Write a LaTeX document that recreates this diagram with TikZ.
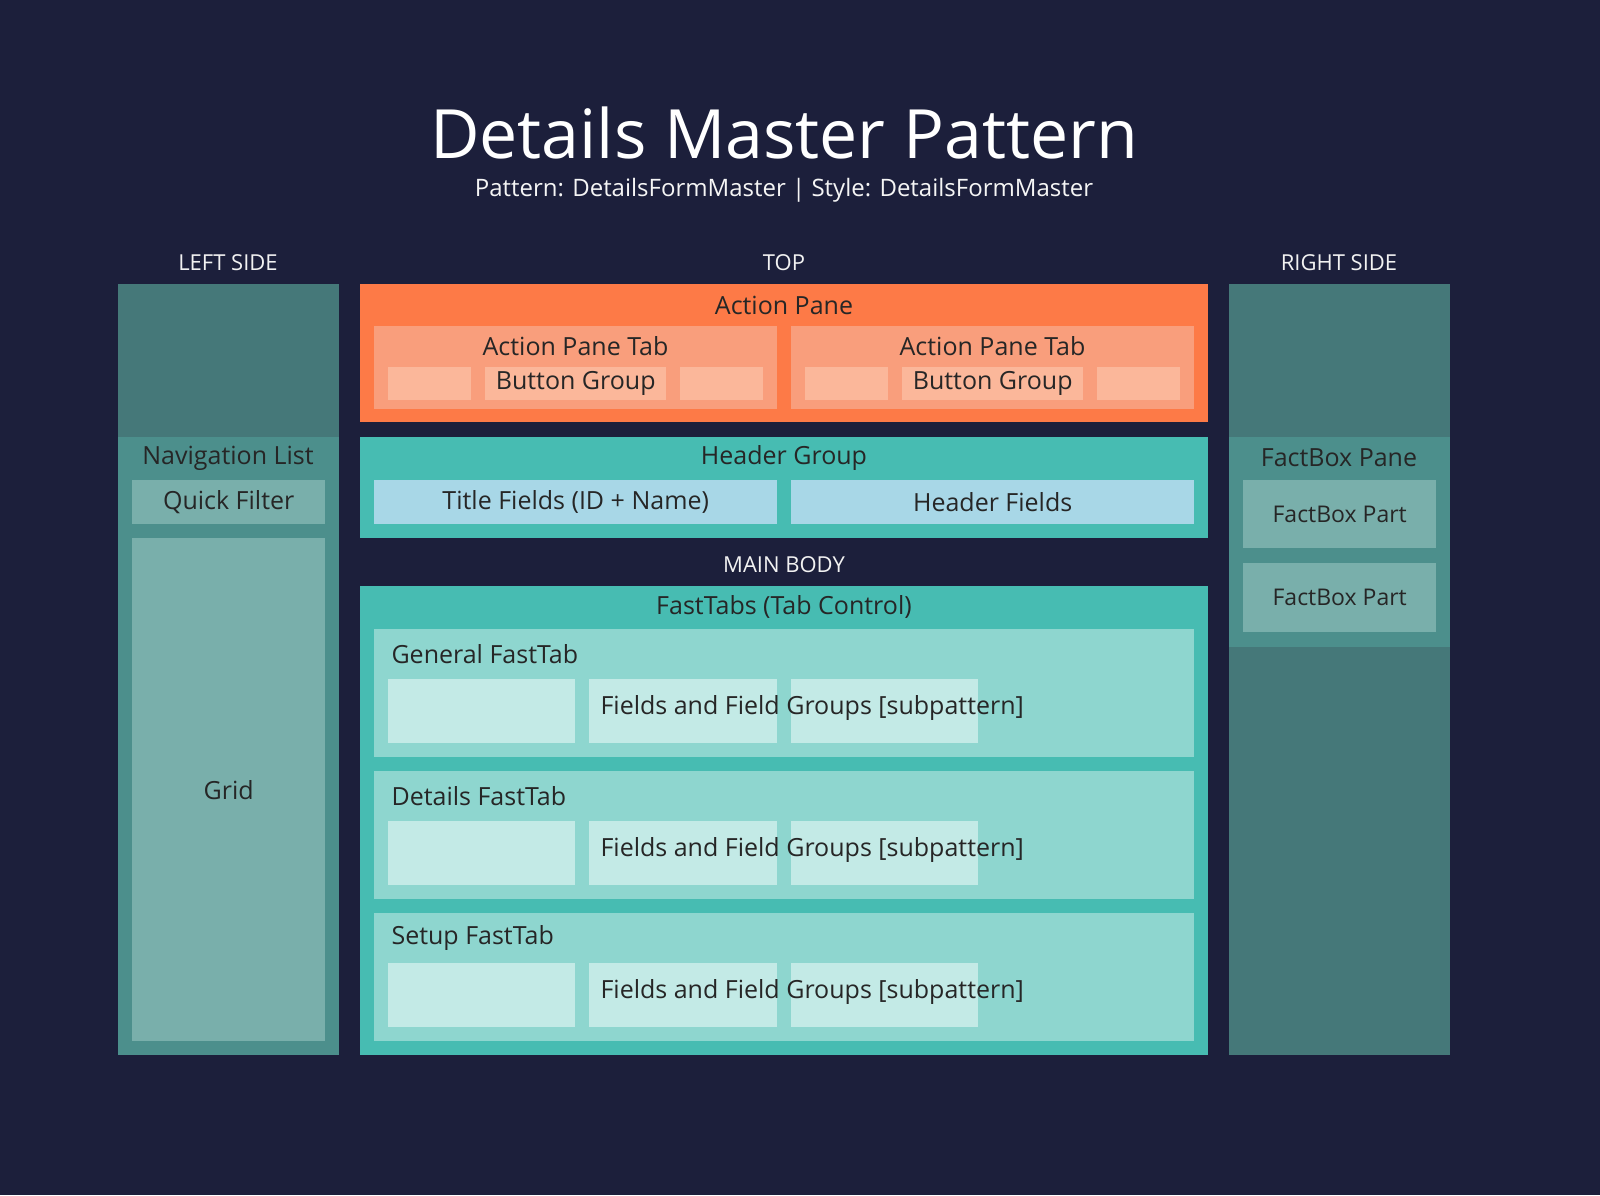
\documentclass[tikz,border=0pt]{standalone}
\usepackage{fontspec}
\setmainfont{Open Sans}
\usetikzlibrary{positioning}
\definecolor{bgnavy}{HTML}{1C1F3B}
\definecolor{sidedark}{HTML}{457879}
\definecolor{sidemid}{HTML}{4C8F8C}
\definecolor{gridfill}{HTML}{79AFAB}
\definecolor{orangepane}{HTML}{FD7A47}
\definecolor{orangetab}{HTML}{F99E7C}
\definecolor{orangebtn}{HTML}{FBB79A}
\definecolor{tealpane}{HTML}{47BCB2}
\definecolor{bluefield}{HTML}{A8D7E7}
\definecolor{tealtab}{HTML}{8ED6CF}
\definecolor{tealbox}{HTML}{C3EAE6}
\tikzset{
	box/.style = {draw=none, anchor=north west, inner sep=0pt},
	lbl/.style = {text=#1, font=\fontsize{25}{30}\selectfont},
	lbl/.default = black!85,
	seclbl/.style = {text=white!90!gray, font=\fontsize{22}{26}\selectfont}
}
\newcommand{\blk}[6]{% name, colour, x, y, w, h
	\node[box, fill=#2, minimum width=#5pt, minimum height=#6pt] (#1) at (#3,#4) {};}
\begin{document}
\begin{tikzpicture}[x=1pt, y=-1pt]
\fill[bgnavy] (0,0) rectangle (1600,1195);
\useasboundingbox (0,0) rectangle (1600,1195);

% title
\node[text=white, font=\fontsize{68}{80}\selectfont] (title) at (784,133) {Details Master Pattern};
\node[text=white!92!gray, font=\fontsize{24}{28}\selectfont] (subtitle) at (784,190) {Pattern: DetailsFormMaster | Style: DetailsFormMaster};

% section labels
\node[seclbl] (leftlbl) at (228,263) {LEFT SIDE};
\node[seclbl] (toplbl) at (784,263) {TOP};
\node[seclbl] (rightlbl) at (1339,263) {RIGHT SIDE};
\node[seclbl] (mainlbl) at (784,565) {MAIN BODY};

% left side
\blk{lefttop}{sidedark}{118}{284}{221}{153}
\blk{navlist}{sidemid}{118}{437}{221}{618}
\node[lbl] (navtxt) at (228,458) {Navigation List};
\blk{qfilter}{gridfill}{132}{480}{193}{44}
\node[lbl] at (qfilter.center) {Quick Filter};
\blk{grid}{gridfill}{132}{538}{193}{503}
\node[lbl] at (grid.center) {Grid};

% action pane
\blk{actpane}{orangepane}{360}{284}{848}{138}
\node[lbl] (acttxt) at (784,305) {Action Pane};
\foreach \x [count=\i] in {374,791}{
	\blk{tab\i}{orangetab}{\x}{326}{403}{83}
	\node[lbl] at (\x+201.5,346) {Action Pane Tab};
	\blk{btnl\i}{orangebtn}{\x+14}{367}{83}{33}
	\blk{btng\i}{orangebtn}{\x+111}{367}{181}{33}
	\node[lbl] at (btng\i.center) {Button Group};
	\blk{btnr\i}{orangebtn}{\x+306}{367}{83}{33}
}

% header group
\blk{hdrgroup}{tealpane}{360}{437}{848}{101}
\node[lbl] (hdrtxt) at (784,458) {Header Group};
\blk{titlefld}{bluefield}{374}{480}{403}{44}
\node[lbl] at (titlefld.center) {Title Fields (ID + Name)};
\blk{hdrfld}{bluefield}{791}{480}{403}{44}
\node[lbl] at (hdrfld.center) {Header Fields};

% main body
\blk{fasttabs}{tealpane}{360}{586}{848}{469}
\node[lbl] (fttxt) at (784,607) {FastTabs (Tab Control)};
\foreach \y/\name [count=\i] in {629/General, 771/Details, 913/Setup}{
	\blk{ft\i}{tealtab}{374}{\y}{820}{128}
	\node[lbl, anchor=west] at (388,\y+25) {\name\ FastTab};
	\blk{fa\i}{tealbox}{388}{\y+50}{187}{64}
	\blk{fb\i}{tealbox}{589}{\y+50}{188}{64}
	\blk{fc\i}{tealbox}{791}{\y+50}{187}{64}
	\node[lbl, anchor=west] at (597,\y+79) {Fields and Field Groups [subpattern]};
}

% right side
\blk{righttop}{sidedark}{1229}{284}{221}{771}
\blk{factpane}{sidemid}{1229}{437}{221}{210}
\node[lbl] (facttxt) at (1339,458) {FactBox Pane};
\blk{part1}{gridfill}{1243}{480}{193}{68}
\node[lbl, font=\fontsize{23}{28}\selectfont] at (part1.center) {FactBox Part};
\blk{part2}{gridfill}{1243}{563}{193}{69}
\node[lbl, font=\fontsize{23}{28}\selectfont] at (part2.center) {FactBox Part};
\end{tikzpicture}
\end{document}
